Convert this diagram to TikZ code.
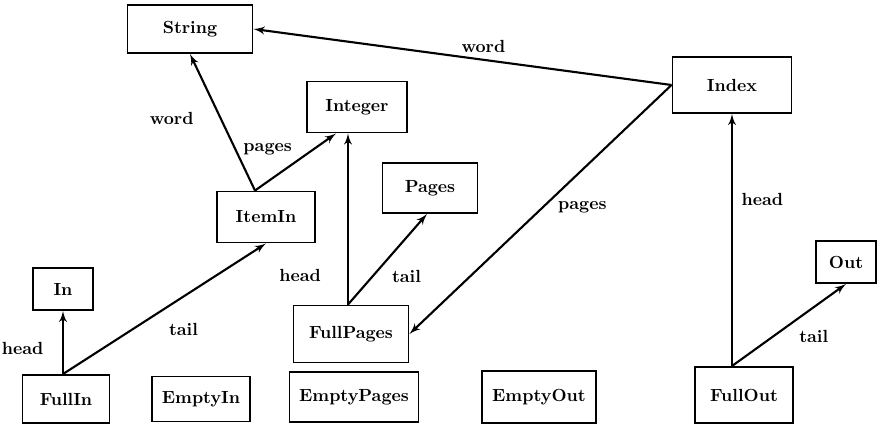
\documentclass[tikz,border=0pt]{standalone}
\usepackage{amsmath}
\usepackage{tikz}
\usetikzlibrary{arrows,positioning}

\begin{document}
\begin{tikzpicture}[
    auto,
    node distance=2cm,
    >=latex',
    font=\bfseries,
    cls/.style={
		rectangle,
		draw=black,
		line width=1.1pt,
		text centered,
		minimum height=10mm,
		minimum width=20mm,
		fill=white
	},
	link/.style={
		->,
		line width=1.2pt
	},
	lbl/.style={
		inner sep=2pt
	}
  ]

 \useasboundingbox (-3.8,0.58) rectangle (13.8,-7.94);

% // the types
 \node [cls, minimum width=25mm, minimum height=9.6mm] (String) {String};
 \node [cls, right of=String, xshift=8.84cm, yshift=-1.12cm, minimum width=23.8mm, minimum height=11.2mm] (Index) {Index};
 \node [cls, right of=String, xshift=1.34cm, yshift=-1.56cm, minimum height=10.2mm] (Integer) {Integer};
 \node [cls, below of=String, xshift=1.52cm, yshift=-1.76cm, minimum width=19.6mm, minimum height=10.2mm] (ItemIn) {ItemIn};
 \node [cls, below of=Integer, xshift=1.46cm, yshift=0.38cm, minimum width=19mm] (Pages) {Pages};
 \node [cls, below of=Integer, xshift=-0.12cm, yshift=-2.54cm, minimum width=23mm, minimum height=11.4mm] (FullPages) {FullPages};
 \node [cls, below of=FullPages, xshift=0.06cm, yshift=0.74cm, minimum width=25.8mm] (EmptyPages) {EmptyPages};
 \node [cls, left of=ItemIn, xshift=-2.06cm, yshift=-1.44cm, minimum width=12mm, minimum height=8.4mm] (In) {In};
 \node [cls, below of=In, xshift=0.06cm, yshift=-0.2cm, minimum width=17.4mm, minimum height=9.6mm] (FullIn) {FullIn};
 \node [cls, right of=FullIn, xshift=0.7cm, minimum width=19.6mm, minimum height=9mm] (EmptyIn) {EmptyIn};
 \node [cls, right of=EmptyPages, xshift=1.7cm, minimum width=22.8mm, minimum height=10.4mm] (EmptyOut) {EmptyOut};
 \node [cls, below of=Index, xshift=0.24cm, yshift=-4.2cm, minimum width=19.6mm, minimum height=11.2mm] (FullOut) {FullOut};
 \node [cls, right of=Index, xshift=0.28cm, yshift=-3.54cm, minimum width=12mm, minimum height=8.4mm] (Out) {Out};

% // the fields
 \draw [link] (Index.west) -- node [lbl, above, pos=0.45, yshift=0.06cm] {word} (String.east);
 \draw [link] (Index.west) -- node [lbl, below right, pos=0.45] {pages} (FullPages.east);

 \draw [link] ([xshift=-0.22cm]ItemIn.north) -- node [lbl, left=0.45cm, pos=0.53] {word} (String.south);
 \draw [link] ([xshift=-0.22cm]ItemIn.north) -- node [lbl, above left, pos=0.45, yshift=0.1cm, xshift=0.1cm] {pages} ([xshift=-0.42cm]Integer.south);

 \draw [link] ([xshift=-0.06cm]FullPages.north) -- node [lbl, left=0.45cm, pos=0.17] {head} ([xshift=-0.06cm]FullPages.north |- Integer.south);
 \draw [link] ([xshift=-0.06cm]FullPages.north) -- node [lbl, below right, pos=0.5, yshift=-0.12cm] {tail} ([xshift=-0.06cm]Pages.south);

 \draw [link] (FullIn.north -| In.south) -- node [lbl, left=0.3cm, pos=0.4] {head} (In.south);
 \draw [link] (FullIn.north -| In.south) -- node [lbl, below right, pos=0.5, yshift=-0.2cm] {tail} (ItemIn.south);

 \draw [link] (FullOut.north -| Index.south) -- node [lbl, right=0.1cm, pos=0.66] {head} (Index.south);
 \draw [link] (FullOut.north -| Index.south) -- node [lbl, below right, pos=0.55, yshift=-0.1cm] {tail} (Out.south);

\end{tikzpicture}
\end{document}
